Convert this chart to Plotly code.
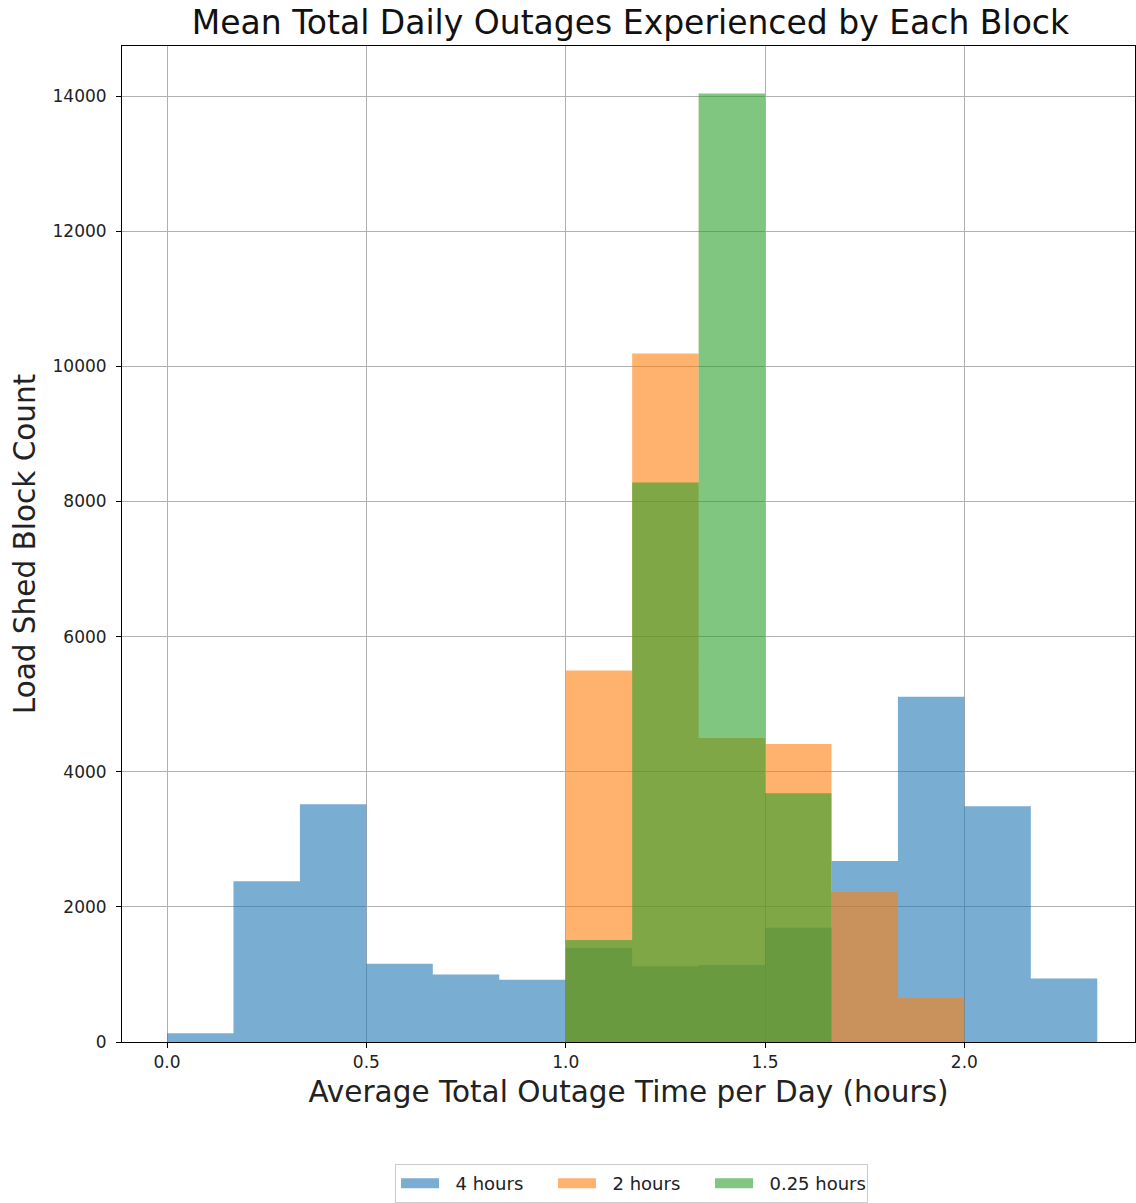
import plotly.graph_objects as go

# Histogram data (bin width = 1/6 hour)
bin_width = 1 / 6
blue_start = 0.0
blue_counts = [130, 2380, 3520, 1160, 1000, 920, 1390, 1120, 1140, 1690, 2680, 5110, 3490, 940]
orange_start = 1.0
orange_counts = [5500, 10190, 4500, 4410, 2220, 650]
green_start = 1.0
green_counts = [1510, 8280, 14040, 3680]

series = [
    ("4 hours", blue_start, blue_counts, (31, 119, 180)),
    ("2 hours", orange_start, orange_counts, (255, 127, 14)),
    ("0.25 hours", green_start, green_counts, (44, 160, 44)),
]

x_ticks = [0.0, 0.5, 1.0, 1.5, 2.0]
y_ticks = [0, 2000, 4000, 6000, 8000, 10000, 12000, 14000]

fig = go.Figure()
for name, start, counts, rgb in series:
    edges = [start + i * bin_width for i in range(len(counts) + 1)]
    fig.add_trace(go.Scatter(
        x=edges, y=list(counts) + [counts[-1]], mode="lines", line_shape="hv",
        line=dict(width=0, color="rgba(%d,%d,%d,0.6)" % rgb),
        fill="tozeroy", fillcolor="rgba(%d,%d,%d,0.6)" % rgb,
        name=name, showlegend=False,
    ))
# legend entries drawn as wide rectangular patches
nb = "\u00a0"
for name, start, counts, rgb in series:
    fig.add_trace(go.Scatter(
        x=[None], y=[None], mode="lines", name=nb * 2 + name,
        line=dict(color="rgba(%d,%d,%d,0.6)" % rgb, width=15), showlegend=True,
    ))

font = "DejaVu Sans"
fig.update_layout(
    width=1136, height=1203,
    margin=dict(l=122, r=1, t=46, b=161, autoexpand=False),
    plot_bgcolor="white", paper_bgcolor="white",
    font=dict(family=font, color="#222"),
    title=dict(text="Mean Total Daily Outages Experienced by Each Block",
               x=0.555, xanchor="center", y=0.981, yanchor="middle",
               font=dict(size=33, family=font, color="#111")),
    legend=dict(orientation="h", x=0.503, xanchor="center", y=-0.1225, yanchor="top",
                bordercolor="#cccccc", borderwidth=1, font=dict(size=18, family=font),
                itemwidth=38, entrywidth=104, tracegroupgap=0),
    showlegend=True,
)
fig.update_xaxes(
    range=[-0.113, 2.428], tickvals=x_ticks, tickformat=".1f",
    showgrid=True, gridcolor="#b0b0b0", gridwidth=1,
    showline=True, linecolor="black", linewidth=1, mirror=True,
    ticks="outside", ticklen=5, tickcolor="black",
    tickfont=dict(size=17, family=font), automargin=False,
    zeroline=False,
    title=dict(text="Average Total Outage Time per Day (hours)", font=dict(size=29.5, family=font), standoff=9),
)
fig.update_yaxes(
    range=[0, 14742], tickvals=y_ticks, tickformat="d",
    showgrid=True, gridcolor="#b0b0b0", gridwidth=1,
    showline=True, linecolor="black", linewidth=1, mirror=True,
    ticks="outside", ticklen=5, tickcolor="black",
    tickfont=dict(size=17, family=font), ticklabelstandoff=6, automargin=False,
    zeroline=False,
    title=dict(text="Load Shed Block Count", font=dict(size=29.5, family=font), standoff=8),
)

fig.write_html("out.html")
